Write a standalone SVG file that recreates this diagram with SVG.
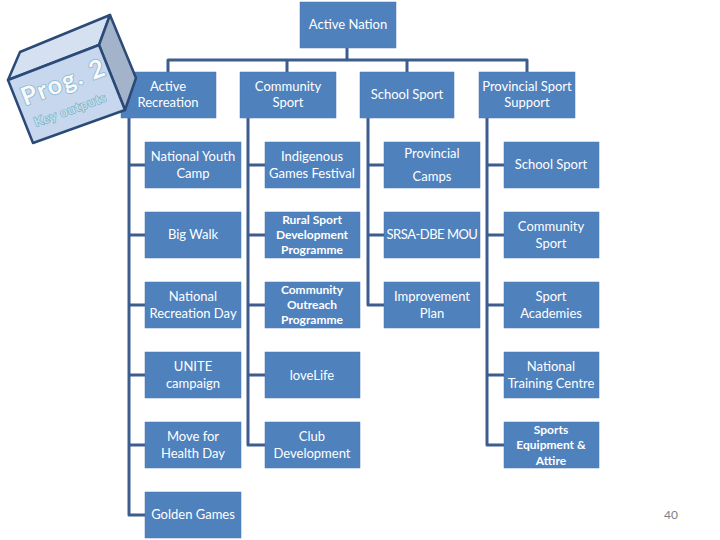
<svg xmlns="http://www.w3.org/2000/svg" width="720" height="540" viewBox="0 0 720 540">
<style>
.box{fill:#4f81bd;stroke:#4a7ab3;stroke-width:0.5}
.t{fill:#ffffff;font-family:Lato,"Liberation Sans",sans-serif;font-size:13px;text-anchor:middle}
.b{font-weight:bold;font-size:12px}
.c{fill:none;stroke:#3c5d8e;stroke-width:3;stroke-linejoin:round}
</style>
<rect width="720" height="540" fill="#ffffff"/>
<g id="connectors">
<path class="c" d="M347,48 V60 M168,72 V60 H527 V72 M287,60 V72 M407,60 V72"/>
<path class="c" d="M129,118 V515 H145 M129,165 H145 M129,235 H145 M129,305 H145 M129,375 H145 M129,445 H145"/>
<path class="c" d="M248,118 V445 H265 M248,165 H265 M248,235 H265 M248,305 H265 M248,375 H265"/>
<path class="c" d="M368,118 V305 H384 M368,165 H384 M368,235 H384"/>
<path class="c" d="M487,118 V445 H504 M487,165 H504 M487,235 H504 M487,305 H504 M487,375 H504"/>
</g>
<g id="n-active-nation"><rect class="box" x="300" y="2" width="96" height="46"/><text class="t" x="348" y="29" font-size="14">Active Nation</text></g>
<g id="n-active-recreation"><rect class="box" x="121" y="72" width="95" height="46"/><text class="t" x="168" y="91">Active</text><text class="t" x="168" y="107">Recreation</text></g>
<g id="n-community-sport"><rect class="box" x="240" y="72" width="96" height="46"/><text class="t" x="288" y="91">Community</text><text class="t" x="288" y="107">Sport</text></g>
<g id="n-school-sport"><rect class="box" x="360" y="72" width="94" height="46"/><text class="t" x="407" y="99">School Sport</text></g>
<g id="n-provincial-sport-support"><rect class="box" x="479" y="72" width="96" height="46"/><text class="t" x="527" y="91">Provincial Sport</text><text class="t" x="527" y="107">Support</text></g>

<g id="n-national-youth-camp"><rect class="box" x="145" y="142" width="96" height="46"/><text class="t" x="193" y="161">National Youth</text><text class="t" x="193" y="178">Camp</text></g>
<g id="n-big-walk"><rect class="box" x="145" y="212" width="96" height="46"/><text class="t" x="193" y="239">Big Walk</text></g>
<g id="n-national-recreation-day"><rect class="box" x="145" y="282" width="96" height="46"/><text class="t" x="193" y="301">National</text><text class="t" x="193" y="318">Recreation Day</text></g>
<g id="n-unite"><rect class="box" x="145" y="352" width="96" height="46"/><text class="t" x="193" y="371">UNITE</text><text class="t" x="193" y="388">campaign</text></g>
<g id="n-move-for-health"><rect class="box" x="145" y="422" width="96" height="46"/><text class="t" x="193" y="441">Move for</text><text class="t" x="193" y="458">Health Day</text></g>
<g id="n-golden-games"><rect class="box" x="145" y="492" width="96" height="46"/><text class="t" x="193" y="519">Golden Games</text></g>

<g id="n-indigenous"><rect class="box" x="265" y="142" width="95" height="46"/><text class="t" x="312" y="161">Indigenous</text><text class="t" x="312" y="178">Games Festival</text></g>
<g id="n-rural-sport"><rect class="box" x="265" y="212" width="95" height="46"/><text class="t b" x="312" y="224">Rural Sport</text><text class="t b" x="312" y="239">Development</text><text class="t b" x="312" y="254">Programme</text></g>
<g id="n-community-outreach"><rect class="box" x="265" y="282" width="95" height="46"/><text class="t b" x="312" y="294">Community</text><text class="t b" x="312" y="309">Outreach</text><text class="t b" x="312" y="324">Programme</text></g>
<g id="n-lovelife"><rect class="box" x="265" y="352" width="95" height="46"/><text class="t" x="312" y="380">loveLife</text></g>
<g id="n-club-development"><rect class="box" x="265" y="422" width="95" height="46"/><text class="t" x="312" y="441">Club</text><text class="t" x="312" y="458">Development</text></g>

<g id="n-provincial-camps"><rect class="box" x="384" y="142" width="96" height="46"/><text class="t" x="432" y="158">Provincial</text><text class="t" x="432" y="181">Camps</text></g>
<g id="n-srsa-dbe"><rect class="box" x="384" y="212" width="96" height="46"/><text class="t" x="432" y="239" letter-spacing="-0.5">SRSA-DBE MOU</text></g>
<g id="n-improvement-plan"><rect class="box" x="384" y="282" width="96" height="46"/><text class="t" x="432" y="301">Improvement</text><text class="t" x="432" y="318">Plan</text></g>

<g id="n-school-sport-2"><rect class="box" x="504" y="142" width="95" height="46"/><text class="t" x="551" y="169">School Sport</text></g>
<g id="n-community-sport-2"><rect class="box" x="504" y="212" width="95" height="46"/><text class="t" x="551" y="231">Community</text><text class="t" x="551" y="248">Sport</text></g>
<g id="n-sport-academies"><rect class="box" x="504" y="282" width="95" height="46"/><text class="t" x="551" y="301">Sport</text><text class="t" x="551" y="318">Academies</text></g>
<g id="n-national-training-centre"><rect class="box" x="504" y="352" width="95" height="46"/><text class="t" x="551" y="371">National</text><text class="t" x="551" y="388">Training Centre</text></g>
<g id="n-sports-equipment"><rect class="box" x="504" y="422" width="95" height="46"/><text class="t b" x="551" y="434">Sports</text><text class="t b" x="551" y="449">Equipment &amp;</text><text class="t b" x="551" y="465">Attire</text></g>

<g id="cube">
<polygon points="8,80 20,52 110,15 99,45" fill="#d5e1f1" stroke="#2c4a78" stroke-width="2.5" stroke-linejoin="round"/>
<polygon points="99,45 110,15 136,78 125,110" fill="#a3b3c9" stroke="#2c4a78" stroke-width="2.5" stroke-linejoin="round"/>
<polygon points="8,80 99,45 125,110 33,143" fill="#c7d7ed" stroke="#2c4a78" stroke-width="2.5" stroke-linejoin="round"/>
<text transform="translate(25,106) rotate(-21)" font-family="Lato,'Liberation Sans',sans-serif" font-size="25" font-weight="bold" letter-spacing="1.5" fill="#f7fafd" stroke="#86b6cc" stroke-width="1.6" paint-order="stroke">Prog. 2</text>
<text transform="translate(36,127) rotate(-20)" font-family="Lato,'Liberation Sans',sans-serif" font-size="13" font-weight="bold" letter-spacing="0.6" fill="#bfe0e8" stroke="#6aa3bd" stroke-width="1" paint-order="stroke">Key outputs</text>
</g>

<text x="671" y="519" font-family="Lato,'Liberation Sans',sans-serif" font-size="12" fill="#808080" text-anchor="middle">40</text>
</svg>
